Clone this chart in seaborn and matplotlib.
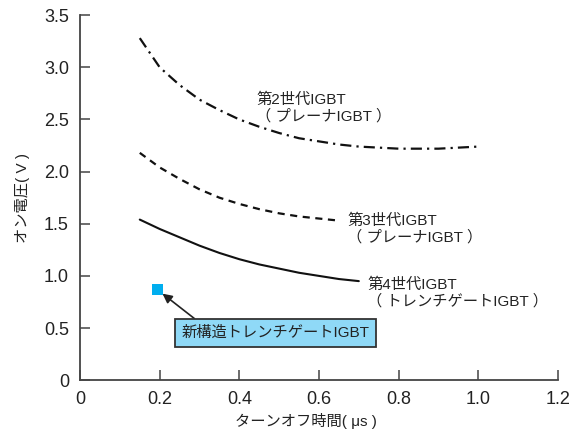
import pandas as pd
import matplotlib.pyplot as plt
import seaborn as sns

# data
gen2_x = [0.15, 0.2, 0.25, 0.3, 0.35, 0.4, 0.45, 0.5, 0.55, 0.6, 0.65, 0.7, 0.75, 0.8, 0.85, 0.9, 0.95, 1.0]
gen2_y = [3.28, 3.00, 2.83, 2.69, 2.59, 2.50, 2.43, 2.37, 2.32, 2.29, 2.26, 2.24, 2.23, 2.22, 2.22, 2.22, 2.23, 2.24]
gen3_x = [0.15, 0.2, 0.25, 0.3, 0.35, 0.4, 0.45, 0.5, 0.55, 0.6, 0.65]
gen3_y = [2.18, 2.04, 1.93, 1.83, 1.75, 1.69, 1.64, 1.60, 1.57, 1.55, 1.53]
gen4_x = [0.15, 0.2, 0.25, 0.3, 0.35, 0.4, 0.45, 0.5, 0.55, 0.6, 0.65, 0.7]
gen4_y = [1.54, 1.45, 1.37, 1.29, 1.22, 1.16, 1.11, 1.07, 1.03, 1.00, 0.97, 0.95]
new_x = [0.195]
new_y = [0.87]

x_ticks = [0, 0.2, 0.4, 0.6, 0.8, 1.0, 1.2]
x_labels = ["0", "0.2", "0.4", "0.6", "0.8", "1.0", "1.2"]
y_ticks = [0, 0.5, 1.0, 1.5, 2.0, 2.5, 3.0, 3.5]
y_labels = ["0", "0.5", "1.0", "1.5", "2.0", "2.5", "3.0", "3.5"]

sns.set_style("ticks")
plt.rcParams['font.family'] = ['Liberation Sans', 'Noto Sans CJK JP', 'DejaVu Sans']

fig = plt.figure(figsize=(5.8, 4.34), dpi=100)
ax = fig.add_axes([0.138, 0.124, 0.824, 0.841])

df2 = pd.DataFrame({"x": gen2_x, "y": gen2_y})
df3 = pd.DataFrame({"x": gen3_x, "y": gen3_y})
df4 = pd.DataFrame({"x": gen4_x, "y": gen4_y})

sns.lineplot(data=df2, x="x", y="y", ax=ax, color="#111111", lw=1.6)
ax.lines[-1].set_dashes([5, 2.3, 1, 2.3])
sns.lineplot(data=df3, x="x", y="y", ax=ax, color="#111111", lw=1.6)
ax.lines[-1].set_dashes([3.2, 2.5])
sns.lineplot(data=df4, x="x", y="y", ax=ax, color="#111111", lw=1.5)
for ln in ax.lines:
    ln.set_solid_joinstyle("round")
    ln.set_dash_joinstyle("round")

sns.scatterplot(x=new_x, y=new_y, ax=ax, marker="s", s=65, color="#00aeef",
                edgecolor="none", zorder=5)

txt_color = "#222222"
ax.text(0.443, 2.61, "第2世代IGBT\n（ プレーナIGBT ）", fontsize=11, va="center",
        linespacing=1.15, color=txt_color)
ax.text(0.671, 1.45, "第3世代IGBT\n（ プレーナIGBT ）", fontsize=11, va="center",
        linespacing=1.15, color=txt_color)
ax.text(0.721, 0.835, "第4世代IGBT\n（ トレンチゲートIGBT ）", fontsize=11, va="center",
        linespacing=1.15, color=txt_color)

ax.annotate("新構造トレンチゲートIGBT", xy=(0.207, 0.83), xytext=(0.255, 0.45),
            fontsize=11, ha="left", va="center", color=txt_color,
            bbox=dict(boxstyle="square,pad=0.45", fc="#8fd9f7", ec="#333333", lw=1.3),
            arrowprops=dict(arrowstyle="-|>", color="#222222", lw=1.2,
                            mutation_scale=14, shrinkA=0, shrinkB=0,
                            relpos=(0.12, 1.0)))

ax.set_xlim(0, 1.2)
ax.set_ylim(0, 3.5)
ax.set_xticks(x_ticks)
ax.set_xticklabels(x_labels)
ax.set_yticks(y_ticks)
ax.set_yticklabels(y_labels)
ax.tick_params(direction="in", length=7.5, width=1.1, labelsize=13, pad=8,
               color="#444444", labelcolor=txt_color)
ax.set_xlabel("ターンオフ時間( μs )", fontsize=11, color=txt_color)
ax.set_ylabel("オン電圧( V )", fontsize=11, color=txt_color)
ax.xaxis.set_label_coords(0.473, -0.09)
ax.yaxis.set_label_coords(-0.105, 0.5)
for s in ["top", "right"]:
    ax.spines[s].set_visible(False)
for s in ["left", "bottom"]:
    ax.spines[s].set_linewidth(1.3)
    ax.spines[s].set_color("#444444")

fig.savefig("out.png", dpi=100)
